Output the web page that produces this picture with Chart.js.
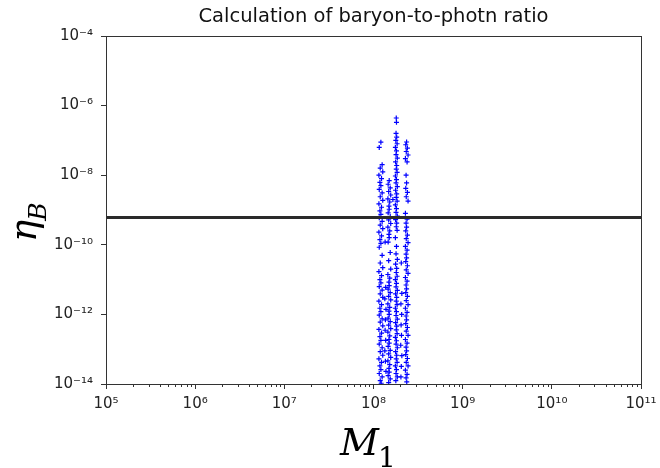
<!DOCTYPE html>
<html>
<head>
<meta charset="utf-8">
<script src="https://cdn.jsdelivr.net/npm/chart.js@4.4.0/dist/chart.umd.min.js"></script>
<style>
  html, body { margin: 0; padding: 0; background: #fff; }
</style>
</head>
<body>
<canvas id="chart" width="660" height="468"></canvas>
<script>
// =========================
// DATA
// =========================

const TITLE = "Calculation of baryon-to-photn ratio";

// observed baryon-to-photon ratio (horizontal line)
const etaObserved = 6.1e-10;

const xTickValues = [1e5, 1e6, 1e7, 1e8, 1e9, 1e10, 1e11];
const xTickLabels = ["10⁵", "10⁶", "10⁷", "10⁸", "10⁹", "10¹⁰", "10¹¹"];
const yTickValues = [1e-14, 1e-12, 1e-10, 1e-8, 1e-6, 1e-4];
const yTickLabels = ["10⁻¹⁴", "10⁻¹²", "10⁻¹⁰", "10⁻⁸", "10⁻⁶", "10⁻⁴"];

// column around M1 ~ 1.2e8
const massCol1 = [
  1.21e8, 1.16e8, 1.25e8, 1.19e8, 1.27e8, 1.15e8, 1.23e8, 1.18e8, 1.21e8, 1.16e8,
  1.25e8, 1.19e8, 1.27e8, 1.15e8, 1.23e8, 1.18e8, 1.21e8, 1.16e8, 1.25e8, 1.19e8,
  1.27e8, 1.15e8, 1.23e8, 1.18e8, 1.21e8, 1.16e8, 1.25e8, 1.19e8, 1.27e8, 1.15e8,
  1.23e8, 1.18e8, 1.21e8, 1.16e8, 1.25e8, 1.19e8, 1.27e8, 1.15e8, 1.23e8, 1.18e8,
  1.21e8, 1.16e8, 1.25e8, 1.19e8, 1.27e8, 1.15e8, 1.23e8, 1.18e8, 1.21e8, 1.16e8,
  1.25e8, 1.19e8, 1.27e8, 1.15e8, 1.23e8, 1.18e8, 1.21e8, 1.16e8, 1.25e8, 1.19e8,
  1.22e8];
const etaCol1 = [
  8.9e-8, 6.3e-8, 2e-8, 1.6e-8, 1.25e-8, 1e-8, 8e-9, 6.2e-9, 5e-9, 3.9e-9,
  3.1e-9, 2.4e-9, 1.9e-9, 1.5e-9, 1.2e-9, 9.5e-10, 7.5e-10, 6e-10, 4.7e-10, 3.7e-10,
  2.9e-10, 2.3e-10, 1.8e-10, 1.4e-10, 1.1e-10, 8.5e-11, 5e-11, 3e-11, 2.2e-11, 1.7e-11,
  1.3e-11, 1e-11, 8e-12, 6.3e-12, 5e-12, 3.9e-12, 3.1e-12, 2.4e-12, 1.9e-12, 1.5e-12,
  1.2e-12, 9.5e-13, 7.5e-13, 6e-13, 4.7e-13, 3.7e-13, 2.9e-13, 2.3e-13, 1.8e-13, 1.4e-13,
  1.1e-13, 8.5e-14, 6.7e-14, 5.3e-14, 4.2e-14, 3.3e-14, 2.6e-14, 2e-14, 1.6e-14, 1.25e-14,
  1.05e-14];

// column around M1 ~ 1.5e8
const massCol2 = [
  1.50e8, 1.46e8, 1.54e8, 1.48e8, 1.56e8, 1.45e8, 1.52e8, 1.49e8, 1.50e8, 1.46e8,
  1.54e8, 1.48e8, 1.56e8, 1.45e8, 1.52e8, 1.49e8, 1.50e8, 1.46e8, 1.54e8, 1.48e8,
  1.56e8, 1.45e8, 1.52e8, 1.49e8, 1.50e8, 1.46e8, 1.54e8, 1.48e8, 1.56e8, 1.45e8,
  1.52e8, 1.49e8, 1.50e8, 1.46e8, 1.54e8, 1.48e8, 1.56e8, 1.45e8, 1.52e8, 1.49e8,
  1.50e8, 1.46e8, 1.54e8, 1.48e8, 1.56e8, 1.45e8, 1.52e8, 1.49e8, 1.50e8, 1.46e8,
  1.54e8, 1.48e8];
const etaCol2 = [
  7e-9, 5.5e-9, 4.3e-9, 3.4e-9, 2.7e-9, 2.1e-9, 1.7e-9, 1.3e-9, 1.05e-9, 8.3e-10,
  6.5e-10, 5.2e-10, 4.1e-10, 3.2e-10, 2.5e-10, 2e-10, 1.6e-10, 1.2e-10, 6e-11, 3.5e-11,
  2e-11, 1.4e-11, 1.1e-11, 8.5e-12, 6.7e-12, 5.3e-12, 4.2e-12, 3.3e-12, 2.6e-12, 2e-12,
  1.6e-12, 1.25e-12, 1e-12, 7.8e-13, 6.2e-13, 4.9e-13, 3.9e-13, 3.1e-13, 2.4e-13, 1.9e-13,
  1.5e-13, 1.2e-13, 9.3e-14, 7.3e-14, 5.8e-14, 4.6e-14, 3.6e-14, 2.8e-14, 2.2e-14, 1.75e-14,
  1.4e-14, 1.1e-14];

// column around M1 ~ 1.8e8
const massCol3 = [
  1.80e8, 1.81e8, 1.79e8, 1.82e8, 1.78e8, 1.84e8, 1.76e8, 1.81e8, 1.79e8, 1.85e8,
  1.77e8, 1.82e8, 1.80e8, 1.84e8, 1.76e8, 1.81e8, 1.79e8, 1.85e8, 1.77e8, 1.82e8,
  1.80e8, 1.84e8, 1.76e8, 1.81e8, 1.79e8, 1.85e8, 1.77e8, 1.82e8, 1.80e8, 1.84e8,
  1.76e8, 1.81e8, 1.79e8, 1.85e8, 1.77e8, 1.82e8, 1.80e8, 1.84e8, 1.76e8, 1.81e8,
  1.79e8, 1.85e8, 1.77e8, 1.82e8, 1.80e8, 1.84e8, 1.76e8, 1.81e8, 1.79e8, 1.85e8,
  1.77e8, 1.82e8, 1.80e8, 1.84e8, 1.76e8, 1.81e8, 1.79e8, 1.85e8, 1.77e8, 1.82e8,
  1.80e8, 1.84e8, 1.76e8, 1.81e8, 1.79e8, 1.85e8, 1.78e8];
const etaCol3 = [
  4.4e-7, 3.3e-7, 1.6e-7, 1.25e-7, 1e-7, 8e-8, 6.3e-8, 5e-8, 3.9e-8, 3.1e-8,
  2.4e-8, 1.9e-8, 1.5e-8, 1.2e-8, 9.5e-9, 7.5e-9, 6e-9, 4.7e-9, 3.7e-9, 2.9e-9,
  2.3e-9, 1.8e-9, 1.4e-9, 1.1e-9, 8.5e-10, 6.7e-10, 5.3e-10, 4.2e-10, 3.3e-10, 2.6e-10,
  1.6e-10, 9e-11, 5.5e-11, 3.8e-11, 2.8e-11, 2.1e-11, 1.6e-11, 1.25e-11, 1e-11, 7.8e-12,
  6.2e-12, 4.9e-12, 3.9e-12, 3.1e-12, 2.4e-12, 1.9e-12, 1.5e-12, 1.2e-12, 9.3e-13, 7.3e-13,
  5.8e-13, 4.6e-13, 3.6e-13, 2.8e-13, 2.2e-13, 1.75e-13, 1.4e-13, 1.1e-13, 8.5e-14, 6.7e-14,
  5.3e-14, 4.2e-14, 3.3e-14, 2.6e-14, 2e-14, 1.6e-14, 1.25e-14];

// column around M1 ~ 2.35e8
const massCol4 = [
  2.35e8, 2.30e8, 2.40e8, 2.33e8, 2.44e8, 2.28e8, 2.38e8, 2.32e8, 2.35e8, 2.30e8,
  2.40e8, 2.33e8, 2.44e8, 2.28e8, 2.38e8, 2.32e8, 2.35e8, 2.30e8, 2.40e8, 2.33e8,
  2.44e8, 2.28e8, 2.38e8, 2.32e8, 2.35e8, 2.30e8, 2.40e8, 2.33e8, 2.44e8, 2.28e8,
  2.38e8, 2.32e8, 2.35e8, 2.30e8, 2.40e8, 2.33e8, 2.44e8, 2.28e8, 2.38e8, 2.32e8,
  2.35e8, 2.30e8, 2.40e8, 2.33e8, 2.44e8, 2.28e8, 2.38e8, 2.32e8, 2.35e8, 2.30e8,
  2.40e8, 2.33e8, 2.44e8, 2.28e8, 2.38e8, 2.32e8, 2.36e8];
const etaCol4 = [
  9e-8, 7.5e-8, 6e-8, 4.8e-8, 3.8e-8, 3e-8, 2.4e-8, 1e-8, 6e-9, 4.2e-9,
  3.2e-9, 2.4e-9, 1.8e-9, 8e-10, 5.5e-10, 4.2e-10, 3.2e-10, 2.5e-10, 1.9e-10, 1.5e-10,
  1.15e-10, 9e-11, 7e-11, 5.4e-11, 4.2e-11, 3.3e-11, 2.5e-11, 1.9e-11, 1.5e-11, 1.15e-11,
  9e-12, 7e-12, 5.4e-12, 4.2e-12, 3.3e-12, 2.5e-12, 1.9e-12, 1.5e-12, 1.15e-12, 9e-13,
  7e-13, 5.4e-13, 4.2e-13, 3.3e-13, 2.5e-13, 1.9e-13, 1.5e-13, 1.15e-13, 9e-14, 7e-14,
  5.4e-14, 4.2e-14, 3.3e-14, 2.5e-14, 1.9e-14, 1.5e-14, 1.15e-14];

// scattered points between the columns (mostly low eta)
const massFill = [
  1.35e8, 2.05e8, 1.37e8, 2.08e8, 1.34e8, 2.03e8, 1.38e8, 2.07e8, 1.36e8, 2.04e8,
  1.35e8, 2.06e8, 1.37e8, 2.02e8, 1.34e8, 2.08e8, 1.36e8, 2.05e8, 1.38e8, 2.03e8,
  1.65e8];
const etaFill = [
  1.2e-10, 3e-11, 6e-12, 4e-12, 2.8e-12, 2e-12, 1.4e-12, 1e-12, 7e-13, 5e-13,
  3.5e-13, 2.5e-13, 1.8e-13, 1.3e-13, 9e-14, 6.5e-14, 4.5e-14, 3.2e-14, 2.3e-14, 1.6e-14,
  2e-9];


// =========================
// HELPERS
// =========================

function toPoints(masses, etas) {
  return etas.map((e, i) => ({ x: masses[i], y: e }));
}

// minor ticks 2..9 x 10^n between the major x ticks
function minorTicks(majors) {
  const out = [];
  for (let i = 0; i < majors.length - 1; i++) {
    for (let k = 2; k <= 9; k++) out.push(majors[i] * k);
  }
  return out;
}

const AXIS_COLOR = "#333";
const TICK_FONT = { family: "DejaVu Sans", size: 15 };

// title, frame, minor ticks and the math-style axis labels
const decorPlugin = {
  id: "decor",
  afterDraw(chart) {
    const { ctx, chartArea: a, scales } = chart;
    ctx.save();

    // title centred over the plot area
    ctx.fillStyle = "#111";
    ctx.font = "19.5px 'DejaVu Sans'";
    ctx.textAlign = "center";
    ctx.textBaseline = "alphabetic";
    ctx.fillText(TITLE, (a.left + a.right) / 2, 22);

    // box round the plot area
    ctx.strokeStyle = AXIS_COLOR;
    ctx.lineWidth = 1;
    ctx.strokeRect(a.left + 0.5, a.top + 0.5, a.right - a.left, a.bottom - a.top);

    // minor x ticks
    ctx.beginPath();
    minorTicks(xTickValues).forEach(v => {
      const px = Math.round(scales.x.getPixelForValue(v)) + 0.5;
      ctx.moveTo(px, a.bottom);
      ctx.lineTo(px, a.bottom + 3);
    });
    ctx.stroke();

    ctx.fillStyle = "#000";
    ctx.textAlign = "left";

    // y label: eta_B, rotated
    ctx.save();
    ctx.translate(36, 242);
    ctx.rotate(-Math.PI / 2);
    ctx.font = "italic 37px 'DejaVu Serif'";
    ctx.fillText("η", 0, 0);
    const w = ctx.measureText("η").width;
    ctx.font = "italic 25px 'DejaVu Serif'";
    ctx.fillText("B", w - 1, 10);
    ctx.restore();

    // x label: M_1
    ctx.font = "italic 38px 'DejaVu Serif'";
    ctx.fillText("M", 340, 455);
    const wm = ctx.measureText("M").width;
    ctx.font = "28px 'DejaVu Serif'";
    ctx.fillText("1", 339 + wm, 467);

    ctx.restore();
  }
};

const scatterColumns = [
  [massCol1, etaCol1], [massCol2, etaCol2], [massCol3, etaCol3],
  [massCol4, etaCol4], [massFill, etaFill]
];


// =========================
// RENDER
// =========================

new Chart(document.getElementById("chart").getContext("2d"), {
  data: {
    datasets: [
      {
        type: "line",
        data: [{ x: xTickValues[0], y: etaObserved }, { x: xTickValues[xTickValues.length - 1], y: etaObserved }],
        borderColor: "#2a2a2a",
        borderWidth: 3,
        pointRadius: 0,
        order: 0
      },
      ...scatterColumns.map(([m, e]) => ({
        type: "scatter",
        data: toPoints(m, e),
        pointStyle: "cross",
        pointRadius: 2.5,
        borderWidth: 1.2,
        borderColor: "#0000ff",
        backgroundColor: "#0000ff",
        order: 1
      }))
    ]
  },
  options: {
    responsive: false,
    animation: false,
    layout: { padding: { top: 36, right: 19, left: 0, bottom: 0 } },
    plugins: {
      legend: { display: false },
      tooltip: { enabled: false },
      title: { display: false }
    },
    scales: {
      x: {
        type: "logarithmic",
        min: xTickValues[0],
        max: xTickValues[xTickValues.length - 1],
        afterBuildTicks: s => { s.ticks = xTickValues.map(v => ({ value: v })); },
        afterFit: s => { s.height = 84; s.paddingLeft = 0; s.paddingRight = 0; },
        ticks: {
          callback: (v, i) => xTickLabels[i],
          color: "#222",
          font: TICK_FONT,
          padding: 6,
          maxRotation: 0,
          autoSkip: false
        },
        grid: { drawOnChartArea: false, tickLength: 5, color: AXIS_COLOR },
        border: { color: AXIS_COLOR }
      },
      y: {
        type: "logarithmic",
        min: yTickValues[0],
        max: yTickValues[yTickValues.length - 1],
        afterBuildTicks: s => { s.ticks = yTickValues.map(v => ({ value: v })); },
        afterFit: s => { s.width = 106; s.paddingTop = 0; s.paddingBottom = 0; },
        ticks: {
          callback: (v, i) => yTickLabels[i],
          color: "#222",
          font: TICK_FONT,
          padding: 8,
          autoSkip: false
        },
        grid: { drawOnChartArea: false, tickLength: 5, color: AXIS_COLOR },
        border: { color: AXIS_COLOR }
      }
    }
  },
  plugins: [decorPlugin]
});
</script>
</body>
</html>
